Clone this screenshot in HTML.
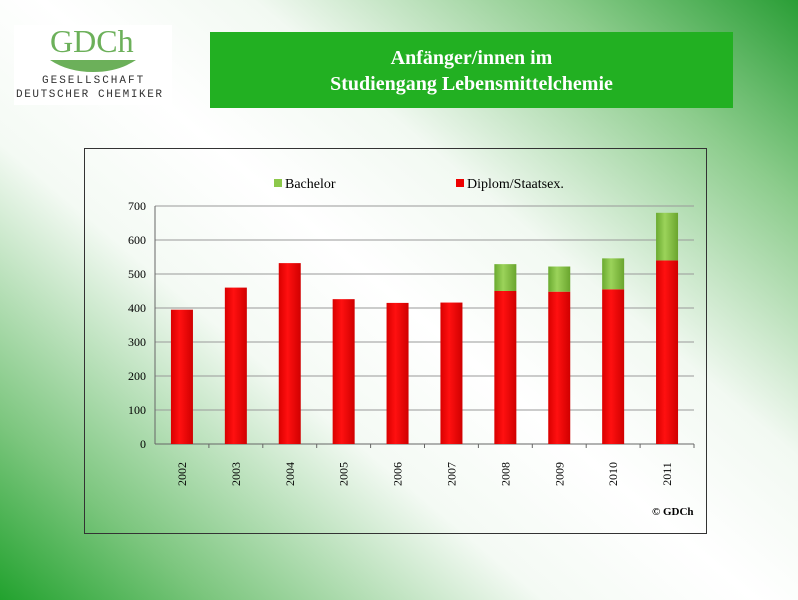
<!DOCTYPE html>
<html><head><meta charset="utf-8"><style>
body{margin:0;width:798px;height:600px;overflow:hidden;position:relative;font-family:"Liberation Serif",serif;
background:linear-gradient(40deg,#22a22e 0%,#7cc67e 14%,#f4faf4 36%,#fff 50%,#f2f9f2 64%,#8ccc8c 84%,#2a9e36 100%);}
#logo{position:absolute;left:14px;top:25px;width:158px;height:80px;background:#fff}
#banner{position:absolute;left:210px;top:32px;width:523px;height:76px;background:#22b022;color:#fff;font-weight:bold;font-size:20px;text-align:center;line-height:26px;box-sizing:border-box;padding-top:13px}
#box{position:absolute;left:84px;top:148px;width:621px;height:384px;border:1px solid #333}
</style></head><body>
<div id="logo">
<div style="position:absolute;left:36px;top:-2px;color:#6cb05a;font-size:32px;font-family:'Liberation Serif',serif">GDCh</div>
<svg style="position:absolute;left:34px;top:32px" width="90" height="16"><path d="M2 3 H88 Q70 15 45 15 Q20 15 2 3Z" fill="#6cb05a"/></svg>
<div style="position:absolute;left:28px;top:50px;font:11px 'Liberation Mono',monospace;letter-spacing:2px;color:#333">GESELLSCHAFT</div>
<div style="position:absolute;left:2px;top:64px;font:11px 'Liberation Mono',monospace;letter-spacing:1.6px;color:#333">DEUTSCHER CHEMIKER</div>
</div>
<div id="banner">Anfänger/innen im<br>Studiengang Lebensmittelchemie</div>
<div id="box"></div>
<svg id="chart" width="798" height="600" style="position:absolute;left:0;top:0"></svg>
<script>
const categories=["2002","2003","2004","2005","2006","2007","2008","2009","2010","2011"];
const diplom=[395,460,532,426,415,416,450,448,455,540];
const bachelor=[0,0,0,0,0,0,79,74,91,140];
const yTicks=[0,100,200,300,400,500,600,700];
const svg=document.getElementById('chart');const NS='http://www.w3.org/2000/svg';
const x0=155,x1=694,y0=444,yTop=206,yMax=700;
const y=v=>y0-(v/yMax)*(y0-yTop);
const bw=(x1-x0)/categories.length;
function el(t,a,p){const e=document.createElementNS(NS,t);for(const k in a)e.setAttribute(k,a[k]);(p||svg).appendChild(e);return e;}
const defs=el('defs',{});
defs.innerHTML='<linearGradient id="gr" x1="0" x2="1"><stop offset="0" stop-color="#d90000"/><stop offset="0.4" stop-color="#ff1010"/><stop offset="1" stop-color="#d00000"/></linearGradient><linearGradient id="gg" x1="0" x2="1"><stop offset="0" stop-color="#6aaa30"/><stop offset="0.4" stop-color="#9bd35a"/><stop offset="1" stop-color="#6aa52e"/></linearGradient>';
yTicks.forEach(t=>{
const g=el('line',{x1:x0,x2:x1,y1:y(t),y2:y(t),stroke:t?'#999':'#666','stroke-width':1});

const tx=el('text',{x:146,y:y(t)+4,'text-anchor':'end','font-size':12,'font-family':'Liberation Serif, serif'});tx.textContent=t;

});
el('line',{x1:x0,x2:x0,y1:yTop,y2:y0,stroke:'#666'});
categories.forEach((c,i)=>{
const cx=x0+bw*(i+0.5);
el('line',{x1:x0+bw*(i+1),x2:x0+bw*(i+1),y1:y0,y2:y0+4,stroke:'#666'});
const r=el('rect',{x:cx-11,y:y(diplom[i]),width:22,height:y0-y(diplom[i]),fill:'url(#gr)'});

if(bachelor[i]>0){const b=el('rect',{x:cx-11,y:y(diplom[i]+bachelor[i]),width:22,height:y(diplom[i])-y(diplom[i]+bachelor[i]),fill:'url(#gg)'});
}
const t=el('text',{x:0,y:0,transform:`translate(${cx+4},${y0+30}) rotate(-90)`,'text-anchor':'middle','font-size':12,'font-family':'Liberation Serif, serif'});t.textContent=c;

});
const l1=el('rect',{x:274,y:179,width:8,height:8,fill:'#8cc84a'});
const lt1=el('text',{x:285,y:188,'font-size':14});lt1.textContent='Bachelor';
const l2=el('rect',{x:456,y:179,width:8,height:8,fill:'#ee0000'});
const lt2=el('text',{x:467,y:188,'font-size':14});lt2.textContent='Diplom/Staatsex.';
const cp=el('text',{x:652,y:515,'font-size':11,'font-weight':'bold'});cp.textContent='© GDCh';
</script>
</body></html>
